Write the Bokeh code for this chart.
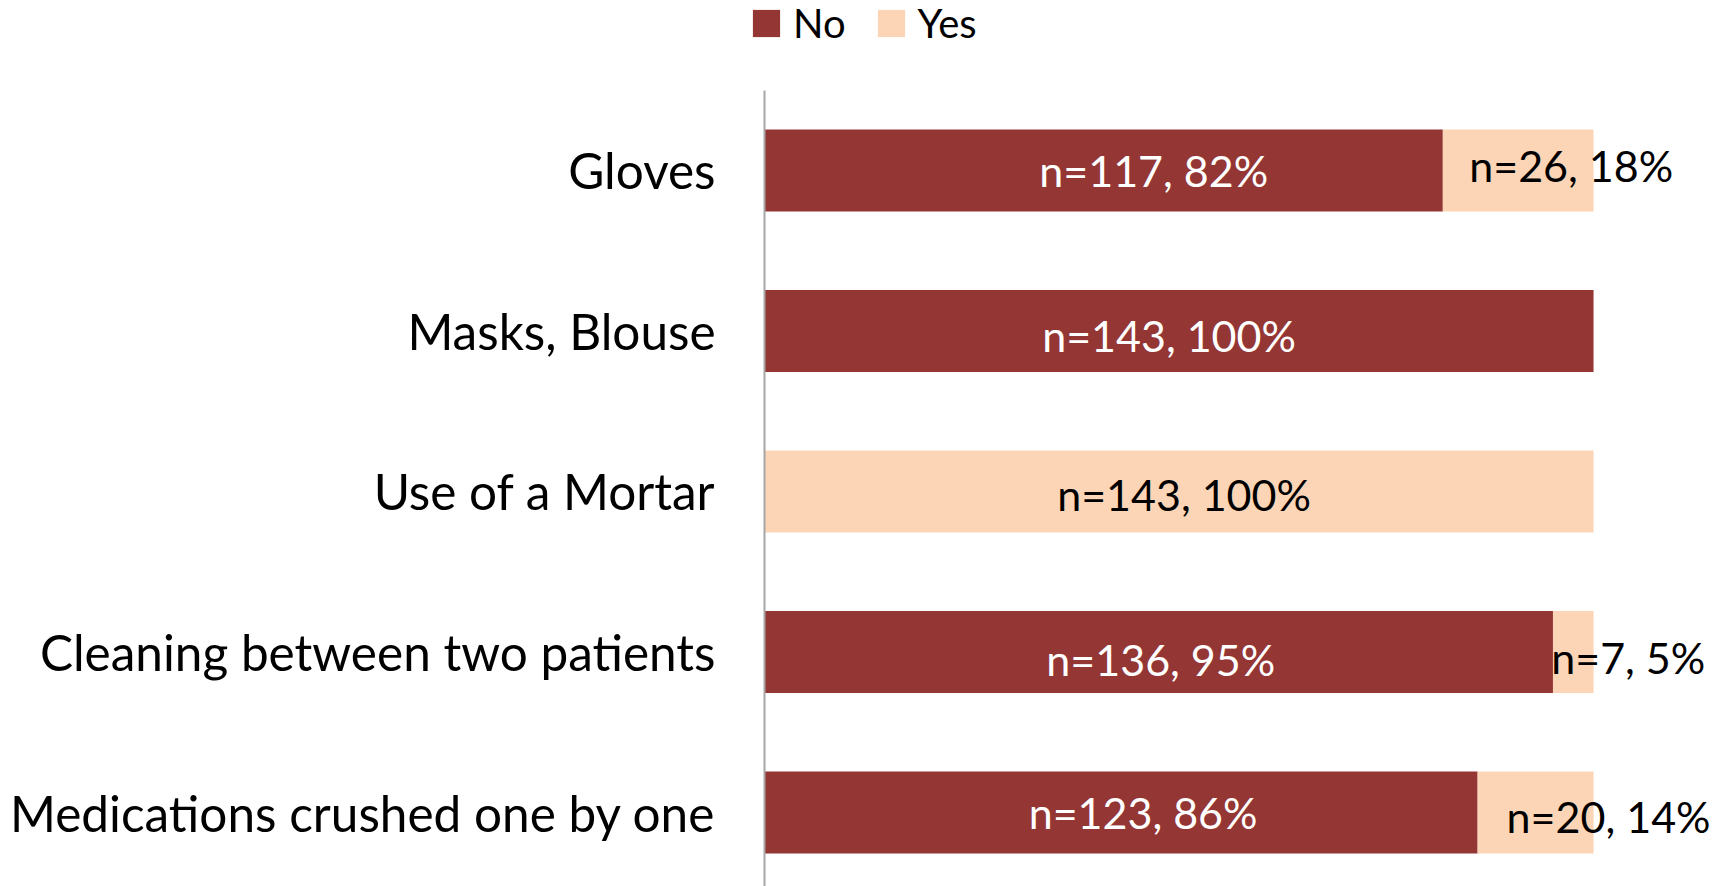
from bokeh.plotting import figure
from bokeh.models import ColumnDataSource, Range1d, FixedTicker, Legend, LegendItem
from bokeh.core.properties import value
from bokeh.embed import file_html
from bokeh.resources import INLINE

categories = ["Gloves", "Masks, Blouse", "Use of a Mortar",
              "Cleaning between two patients", "Medications crushed one by one"]
no_n = [117, 143, 0, 136, 123]
yes_n = [26, 0, 143, 7, 20]
no_pct = [82, 100, 0, 95, 86]
yes_pct = [18, 0, 100, 5, 14]

NO_COLOR = "#943634"
YES_COLOR = "#FBD5B5"
FONT = "Lato"

# label nudges in screen pixels (style, not data)
no_dx = [50, -10, 0, 2, 22]
no_dy = [0, 5, 0, 8, 0]
yes_dx = [53, 0, 5, 55, 73]
yes_dy = [-5, 0, 3, 6, 4]

ys = list(range(len(categories)))
src = ColumnDataSource(dict(y=ys, no=no_n, yes=yes_n))

p = figure(width=1720, height=886, output_backend="svg", toolbar_location=None,
           x_range=Range1d(-131.8, 164.9), y_range=Range1d(4.461, -1.059),
           min_border_left=0, min_border_top=0, min_border_bottom=0,
           min_border_right=0)
p.outline_line_color = None
p.xgrid.visible = False
p.ygrid.visible = False
p.xaxis.visible = False

rs = p.hbar_stack(["no", "yes"], y="y", height=0.511, color=[NO_COLOR, YES_COLOR],
                  line_color=None, source=src)

# zero-size swatch renderers, used only for the legend's square markers
sw_src = ColumnDataSource(dict(l=[0], r=[0], t=[0], b=[0]))
sw_no = p.quad(left="l", right="r", top="t", bottom="b", source=sw_src,
               fill_color=NO_COLOR, line_color=None)
sw_yes = p.quad(left="l", right="r", top="t", bottom="b", source=sw_src,
                fill_color=YES_COLOR, line_color=None)

# labels
lx, ly, lt, lc, ldx, ldy = [], [], [], [], [], []
for i in range(len(categories)):
    if no_n[i] > 0:
        lx.append(no_n[i] / 2); ly.append(i)
        lt.append(f"n={no_n[i]}, {no_pct[i]}%"); lc.append("white")
        ldx.append(no_dx[i]); ldy.append(no_dy[i])
    if yes_n[i] > 0:
        lx.append(no_n[i] + yes_n[i] / 2); ly.append(i)
        lt.append(f"n={yes_n[i]}, {yes_pct[i]}%"); lc.append("black")
        ldx.append(yes_dx[i]); ldy.append(yes_dy[i])
lsrc = ColumnDataSource(dict(x=lx, y=ly, t=lt, c=lc, dx=ldx, dy=ldy))
p.text(x="x", y="y", text="t", text_color="c", x_offset="dx", y_offset="dy",
       source=lsrc, text_align="center", text_baseline="middle",
       text_font=value(FONT), text_font_size="43px")

ax = p.yaxis[0]
ax.fixed_location = 0
ax.ticker = FixedTicker(ticks=ys)
ax.bounds = (-0.5, 4.461)
ax.major_label_overrides = {i: c for i, c in enumerate(categories)}
ax.major_tick_line_color = None
ax.minor_tick_line_color = None
ax.axis_line_color = "#A6A6A6"
ax.axis_line_width = 2
ax.major_label_text_font = FONT
ax.major_label_text_font_size = "49.5px"
ax.major_label_text_color = "black"
ax.major_label_standoff = 43

legend = Legend(items=[LegendItem(label="No", renderers=[sw_no]),
                       LegendItem(label="Yes", renderers=[sw_yes])],
                orientation="horizontal", location=(749, 839),
                glyph_width=34, glyph_height=34, label_standoff=10, spacing=28,
                label_text_font=FONT, label_text_font_size="40px",
                label_text_color="black",
                border_line_color=None, background_fill_alpha=0,
                padding=0, margin=0)
p.add_layout(legend, "center")

open("out.html", "w").write(file_html(p, INLINE))
